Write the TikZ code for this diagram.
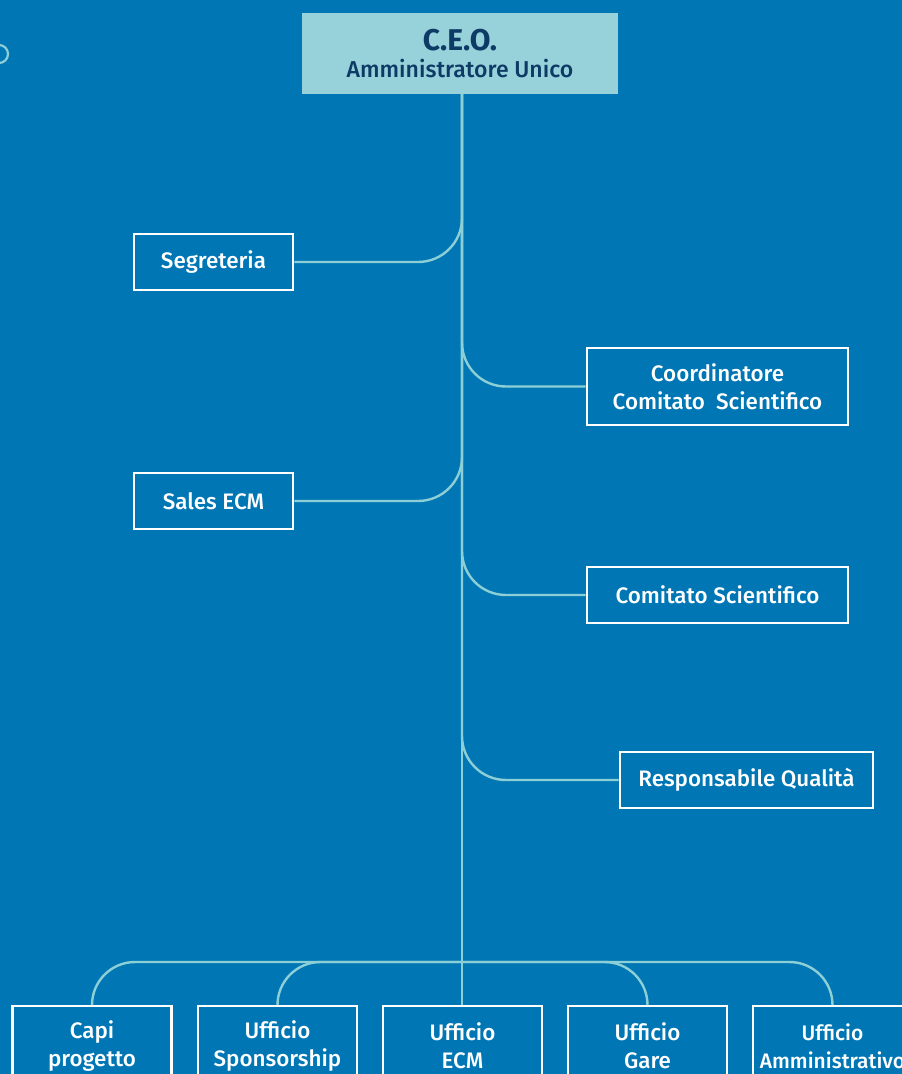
\documentclass[tikz,border=0pt]{standalone}
\usepackage{fontspec}
\setmainfont{Fira Sans}[UprightFont=* Medium, BoldFont=* Bold]
\definecolor{bg}{HTML}{0077B4}
\definecolor{linec}{HTML}{8CCFD6}
\definecolor{ceofill}{HTML}{97D1D9}
\definecolor{navy}{HTML}{0D3B66}
\begin{document}
\begin{tikzpicture}[x=1pt,y=-1pt,
  box/.style={draw=white,line width=2.6pt,text=white,align=center,
    font=\fontsize{22.4}{28}\selectfont,inner sep=0pt},
  conn/.style={draw=linec,line width=2.4pt,rounded corners=44pt},
  trunk/.style={draw=linec,line width=2.4pt}]
\useasboundingbox (0,0) rectangle (902,1074);
\clip (0,0) rectangle (902,1074);
\fill[bg] (0,0) rectangle (902,1074);
\draw[linec,line width=2.2pt] (-1,54) circle (9pt);
% nodes
\node[fill=ceofill,inner sep=0pt,minimum width=316pt,minimum height=81pt,align=center,text=navy,
  font=\fontsize{23}{29}\selectfont] (ceo) at (460,53.5)
  {{\fontsize{30}{30}\selectfont\bfseries C.E.O.}\\[-2pt]Amministratore Unico};
\node[box,minimum width=159pt,minimum height=56pt] (seg) at (213.5,262) {Segreteria};
\node[box,minimum width=261pt,minimum height=77pt] (coord) at (717.5,386.5) {Coordinatore\\Comitato\ \ Scientifico};
\node[box,minimum width=159pt,minimum height=56pt] (sales) at (213.5,501) {Sales ECM};
\node[box,minimum width=261pt,minimum height=56pt] (comit) at (717.5,595) {Comitato Scientifico};
\node[box,minimum width=253pt,minimum height=56pt] (resp) at (746.5,780) {Responsabile Qualità};
\node[box,minimum width=159pt,minimum height=80pt] (capi) at (92,1046) {Capi\\progetto};
\node[box,minimum width=159pt,minimum height=80pt] (spons) at (277.5,1046) {Ufficio\\Sponsorship};
\node[box,minimum width=159pt,minimum height=80pt] (ecm) at (462.5,1046) {Ufficio\\ECM};
\node[box,minimum width=159pt,minimum height=80pt] (gare) at (647.5,1046) {Ufficio\\Gare};
\node[box,minimum width=159pt,minimum height=80pt,font=\fontsize{21}{28}\selectfont] (amm) at (832.5,1046) {Ufficio\\Amministrativo};
\coordinate (bus) at (462,962);
% connectors
\draw[trunk] (ceo.south -| bus) -- (bus |- ecm.north);
\draw[conn] (seg.east) -| (ceo.south -| bus);
\draw[conn] (coord.west) -| (ceo.south -| bus);
\draw[conn] (sales.east) -| (ceo.south -| bus);
\draw[conn] (comit.west) -| (ceo.south -| bus);
\draw[conn] (resp.west) -| (ceo.south -| bus);
\draw[conn,rounded corners=43pt] (capi.north) |- (bus);
\draw[conn,rounded corners=43pt] (spons.north) |- (bus);
\draw[conn,rounded corners=43pt] (gare.north) |- (bus);
\draw[conn,rounded corners=43pt] (amm.north) |- (bus);
\end{tikzpicture}
\end{document}
